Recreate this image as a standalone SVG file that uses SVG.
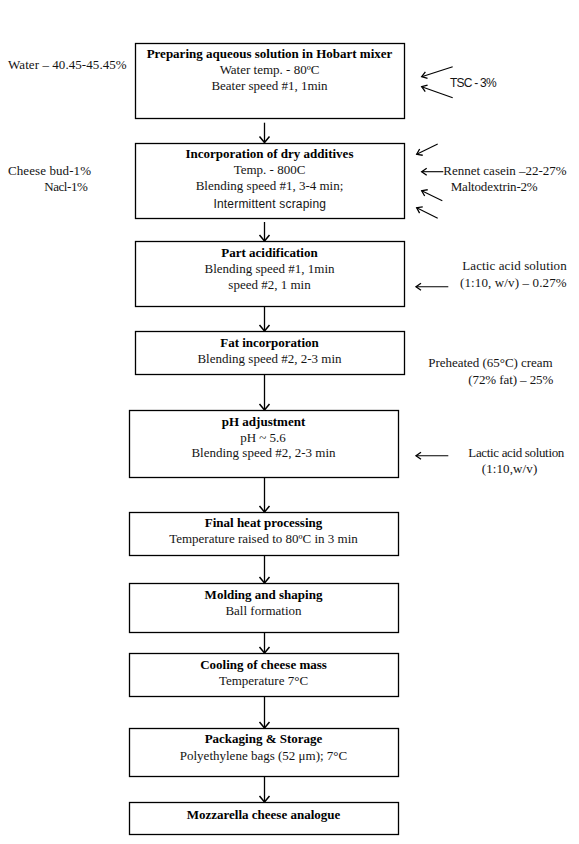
<svg xmlns="http://www.w3.org/2000/svg" width="579" height="844" viewBox="0 0 579 844">
<style>
  .box { fill: #fff; stroke: #000; stroke-width: 1.3; }
  .t { font-family: "Liberation Serif", "Times New Roman", serif; font-size: 13px; fill: #141414; text-anchor: middle; }
  .b { font-weight: bold; fill: #000; }
  .s { font-family: "Liberation Serif", "Times New Roman", serif; font-size: 13px; fill: #141414; }
  .sans { font-family: "Liberation Sans", Arial, sans-serif; font-size: 12px; fill: #141414; }
  .flow { stroke: #000; stroke-width: 1.3; fill: none; marker-end: url(#ah); }
  .side { stroke: #000; stroke-width: 1.1; fill: none; marker-end: url(#ahs); }
</style>
<defs>
  <marker id="ah" markerUnits="userSpaceOnUse" markerWidth="14" markerHeight="14" viewBox="-8 -7 10 14" refX="0" refY="0" orient="auto">
    <path d="M-6,-5 L0,0 L-6,5" fill="none" stroke="#000" stroke-width="1.5"/>
  </marker>
  <marker id="ahs" markerUnits="userSpaceOnUse" markerWidth="12" markerHeight="12" viewBox="-7 -6 9 12" refX="0" refY="0" orient="auto">
    <path d="M-5,-3.5 L0,0 L-5,3.5" fill="none" stroke="#000" stroke-width="1.3"/>
  </marker>
</defs>
<rect width="579" height="844" fill="#fff"/>

<g id="connectors">
  <line class="flow" x1="264.5" y1="122.7" x2="264.5" y2="142.5"/>
  <line class="flow" x1="264.5" y1="222" x2="264.5" y2="241"/>
  <line class="flow" x1="264.5" y1="306.5" x2="264.5" y2="331"/>
  <line class="flow" x1="264.5" y1="374.5" x2="264.5" y2="410"/>
  <line class="flow" x1="264.5" y1="477.5" x2="264.5" y2="512"/>
  <line class="flow" x1="264.5" y1="555.5" x2="264.5" y2="583"/>
  <line class="flow" x1="264.5" y1="632.5" x2="264.5" y2="653"/>
  <line class="flow" x1="264.5" y1="696.5" x2="264.5" y2="728"/>
  <line class="flow" x1="264.5" y1="776.5" x2="264.5" y2="802"/>
  <line class="side" x1="452.7" y1="66.7" x2="421.7" y2="76.7"/>
  <line class="side" x1="452.7" y1="97.7" x2="421.7" y2="86.7"/>
  <line class="side" x1="437.7" y1="144" x2="416.7" y2="154.3"/>
  <line class="side" x1="443.3" y1="171.7" x2="421.7" y2="171.7"/>
  <line class="side" x1="442.3" y1="200.7" x2="421.7" y2="190.7"/>
  <line class="side" x1="437.7" y1="218.3" x2="416.7" y2="207.7"/>
  <line class="side" x1="448.3" y1="286.7" x2="416" y2="286.7"/>
  <line class="side" x1="448.3" y1="455.7" x2="416" y2="455.7"/>
</g>

<g id="node-preparing">
  <rect class="box" x="135.5" y="43.5" width="269" height="75"/>
  <text class="t b" x="269.5" y="58.3">Preparing aqueous solution in Hobart mixer</text>
  <text class="t" x="269.5" y="74.3">Water temp. - 80ºC</text>
  <text class="t" x="269.5" y="90.3">Beater speed #1, 1min</text>
</g>
<g id="node-dry-additives">
  <rect class="box" x="135.5" y="143.5" width="269" height="75"/>
  <text class="t b" x="269.5" y="158.3">Incorporation of dry additives</text>
  <text class="t" x="269.5" y="174.3">Temp. - 800C</text>
  <text class="t" x="269.5" y="190.3">Blending speed #1, 3-4 min;</text>
  <text class="sans" x="269.7" y="208.3" text-anchor="middle" textLength="112.5">Intermittent scraping</text>
</g>
<g id="node-part-acidification">
  <rect class="box" x="135.5" y="241.5" width="269" height="65"/>
  <text class="t b" x="269.5" y="257.3">Part acidification</text>
  <text class="t" x="269.5" y="273.3">Blending speed #1, 1min</text>
  <text class="t" x="269.5" y="289.3">speed #2, 1 min</text>
</g>
<g id="node-fat">
  <rect class="box" x="135.5" y="331.5" width="269" height="43"/>
  <text class="t b" x="269.5" y="347.3">Fat incorporation</text>
  <text class="t" x="269.5" y="362.7">Blending speed #2, 2-3 min</text>
</g>
<g id="node-ph">
  <rect class="box" x="129.5" y="410.5" width="269" height="67"/>
  <text class="t b" x="263.5" y="425.7">pH adjustment</text>
  <text class="t" x="263" y="441.7">pH ~ 5.6</text>
  <text class="t" x="263.5" y="457.3">Blending speed #2, 2-3 min</text>
</g>
<g id="node-final-heat">
  <rect class="box" x="129.5" y="512.5" width="269" height="43"/>
  <text class="t b" x="263.5" y="527.3">Final heat processing</text>
  <text class="t" x="263.5" y="543.3">Temperature raised to 80ºC in 3 min</text>
</g>
<g id="node-molding">
  <rect class="box" x="129.5" y="583.5" width="269" height="49"/>
  <text class="t b" x="263.5" y="599.3">Molding and shaping</text>
  <text class="t" x="263.5" y="615">Ball formation</text>
</g>
<g id="node-cooling">
  <rect class="box" x="129.5" y="653.5" width="269" height="43"/>
  <text class="t b" x="263.5" y="669.3">Cooling of cheese mass</text>
  <text class="t" x="263.5" y="685">Temperature 7°C</text>
</g>
<g id="node-packaging">
  <rect class="box" x="129.5" y="728.5" width="269" height="48"/>
  <text class="t b" x="263.5" y="743.3">Packaging &amp; Storage</text>
  <text class="t" x="263.5" y="760">Polyethylene bags (52 μm); 7°C</text>
</g>
<g id="node-final">
  <rect class="box" x="129.5" y="802.5" width="269" height="32"/>
  <text class="t b" x="263.5" y="819.3">Mozzarella cheese analogue</text>
</g>

<g id="inputs">
  <text class="s" x="8" y="69.3" textLength="118.7">Water – 40.45-45.45%</text>
  <text class="sans" x="450" y="86.5" textLength="46.7">TSC - 3%</text>
  <text class="s" x="8" y="175" textLength="83">Cheese bud-1%</text>
  <text class="s" x="44.3" y="191" textLength="43.5">Nacl-1%</text>
  <text class="s" x="443.3" y="175" textLength="123.4">Rennet casein –22-27%</text>
  <text class="s" x="450.7" y="191" textLength="87">Maltodextrin-2%</text>
  <text class="s" x="462.3" y="270" textLength="104.4">Lactic  acid  solution</text>
  <text class="s" x="460" y="287.3" textLength="106.7">(1:10, w/v) – 0.27%</text>
  <text class="s" x="428.3" y="367.3" textLength="124.4">Preheated (65°C) cream</text>
  <text class="s" x="468.3" y="384" textLength="85">(72% fat) – 25%</text>
  <text class="s" x="468.3" y="456.7" textLength="96">Lactic acid solution</text>
  <text class="s" x="481.7" y="473.3" textLength="55.6">(1:10,w/v)</text>
</g>
</svg>
